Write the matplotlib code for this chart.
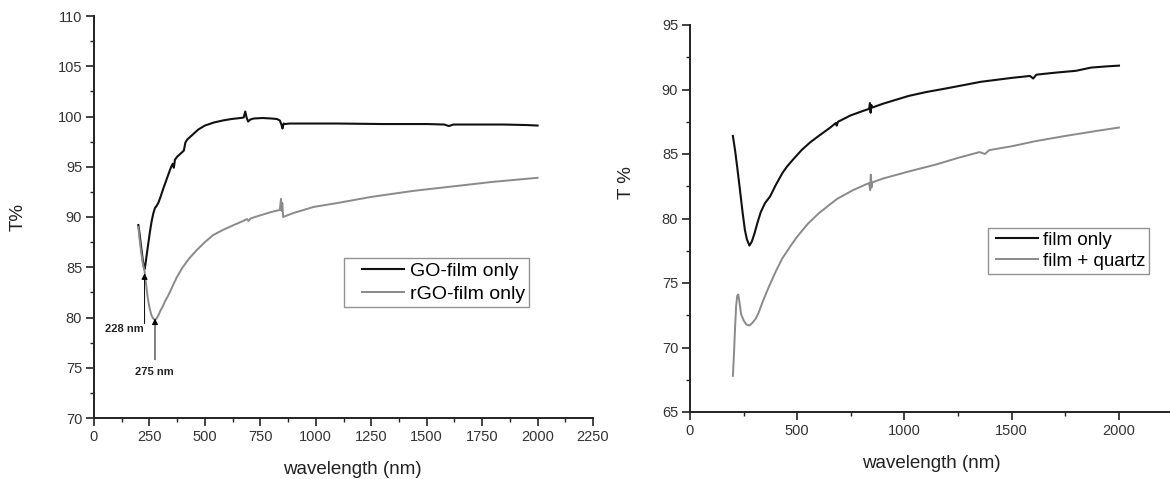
import matplotlib
matplotlib.use('Agg')
from matplotlib import pyplot as plt
from matplotlib.ticker import MultipleLocator
from matplotlib.lines import Line2D
from matplotlib.legend_handler import HandlerLine2D

plt.rcParams['font.family'] = ['Liberation Sans', 'DejaVu Sans']

# left panel: GO film / rGO film
wl_go = [200, 205, 210, 215, 220, 225, 228, 232, 238, 245, 252, 260, 268, 275, 282, 290, 300, 312, 325, 338,
         348, 355, 360, 365, 375, 390, 405, 412, 420, 435, 450, 470, 500, 540, 580, 620, 660, 675, 682, 688,
         695, 705, 720, 760, 800, 825, 838, 845, 850, 855, 862, 880, 950, 1100, 1300, 1500, 1580, 1600, 1620, 1700,
         1850, 1950, 2000]
t_go = [89.2, 88.4, 87.5, 86.6, 85.7, 85.0, 84.8, 85.3, 86.3, 87.4, 88.5, 89.6, 90.4, 90.9, 91.1, 91.4, 92.0, 92.8, 93.6, 94.4,
        95.0, 95.3, 94.9, 95.7, 96.0, 96.3, 96.6, 97.4, 97.7, 98.0, 98.3, 98.7, 99.1, 99.4, 99.6, 99.75, 99.85, 99.9, 100.5, 99.9,
        99.5, 99.7, 99.8, 99.85, 99.8, 99.75, 99.6, 99.2, 98.8, 99.3, 99.25, 99.3, 99.3, 99.3, 99.25, 99.25, 99.2, 99.05, 99.2, 99.2,
        99.2, 99.15, 99.1]

wl_rgo = [200, 205, 212, 220, 228, 235, 242, 250, 258, 265, 272, 278, 285, 292, 300, 310, 320, 335, 350, 373,
          400, 430, 463, 500, 537, 580, 630, 672, 690, 697, 705, 740, 800, 838, 843, 846, 849, 853, 870, 900,
          990, 1100, 1250, 1440, 1600, 1800, 2000]
t_rgo = [89.0, 87.9, 86.6, 85.4, 84.6, 83.3, 82.0, 81.0, 80.3, 79.95, 79.8, 79.8, 80.0, 80.3, 80.7, 81.1, 81.6, 82.2, 82.9, 84.0,
         85.0, 85.9, 86.7, 87.5, 88.2, 88.7, 89.2, 89.6, 89.8, 89.6, 89.85, 90.1, 90.5, 90.7, 91.8, 90.6, 91.4, 90.0, 90.15, 90.4,
         91.0, 91.4, 92.0, 92.6, 93.0, 93.5, 93.9]

# right panel: film only / film + quartz
wl_film = [200, 210, 220, 233, 245, 256, 265, 277, 288, 300, 315, 330, 350, 373, 400, 430, 451, 482, 520, 560,
           600, 650, 680, 684, 690, 750, 800, 835, 839, 842, 845, 850, 900, 1019, 1100, 1200, 1357, 1500, 1585, 1600,
           1615, 1700, 1800, 1870, 1950, 2000]
t_film = [86.4, 85.3, 84.0, 82.2, 80.5, 79.1, 78.4, 77.9, 78.2, 78.8, 79.7, 80.5, 81.2, 81.7, 82.6, 83.5, 84.0, 84.6, 85.3, 85.9,
          86.4, 87.0, 87.4, 87.2, 87.5, 88.0, 88.3, 88.5, 88.95, 88.2, 88.8, 88.6, 88.9, 89.5, 89.8, 90.1, 90.6, 90.9, 91.05, 90.85,
          91.15, 91.3, 91.45, 91.7, 91.8, 91.85]

wl_quartz = [200, 205, 210, 215, 220, 225, 230, 238, 250, 262, 277, 290, 305, 320, 340, 365, 400, 430, 470, 500,
             550, 600, 684, 760, 835, 840, 843, 846, 850, 900, 1021, 1150, 1250, 1350, 1375, 1395, 1500, 1612, 1750, 1900,
             2000]
t_quartz = [67.8, 69.5, 71.5, 73.2, 74.0, 74.1, 73.6, 72.6, 72.1, 71.8, 71.7, 71.9, 72.2, 72.7, 73.6, 74.6, 75.9, 76.9, 77.9, 78.6,
            79.6, 80.4, 81.5, 82.2, 82.75, 82.2, 83.4, 82.4, 82.8, 83.1, 83.65, 84.2, 84.7, 85.15, 85.0, 85.3, 85.6, 86.0, 86.4, 86.8,
            87.05]


def style_axes(ax):
    for s in ['top', 'right']:
        ax.spines[s].set_visible(False)
    for s in ['left', 'bottom']:
        ax.spines[s].set_linewidth(1.4)
        ax.spines[s].set_color('#222222')
    ax.tick_params(which='major', direction='out', length=5.5, width=1.2,
                   labelsize=10.5, labelcolor='#333333', color='#222222', pad=3)
    ax.tick_params(which='minor', direction='out', length=3, width=1.0, color='#222222')


def boxed_legend(ax, anchor, fs, xpad, hlen, spacing):
    leg = ax.legend(loc='upper left', bbox_to_anchor=anchor,
                    bbox_transform=fig.transFigure, fontsize=fs, frameon=True, fancybox=False,
                    handlelength=hlen, handletextpad=0.3, borderpad=0.2, labelspacing=spacing,
                    borderaxespad=0, handler_map={Line2D: HandlerLine2D(xpad=xpad)})
    leg.get_frame().set_edgecolor('#777777')
    leg.get_frame().set_linewidth(1.0)
    return leg


fig = plt.figure(figsize=(11.7, 4.79), dpi=100)

# ---- left ----
ax1 = fig.add_axes([94 / 1170, 1 - 418 / 479, 499 / 1170, 402 / 479])
ax1.plot(wl_go, t_go, c='#111111', lw=1.5, label='GO-film only')
ax1.plot(wl_rgo, t_rgo, c='#8a8a8a', lw=1.4, label='rGO-film only')
ax1.set_xlim(0, 2250)
ax1.set_ylim(70, 110)
ax1.xaxis.set_major_locator(MultipleLocator(250))
ax1.xaxis.set_minor_locator(MultipleLocator(125))
ax1.yaxis.set_major_locator(MultipleLocator(5))
ax1.yaxis.set_minor_locator(MultipleLocator(2.5))
style_axes(ax1)
ax1.set_xlabel('wavelength (nm)', fontsize=13.5, color='#222222')
ax1.set_ylabel('T%', fontsize=13.5, color='#222222')
ax1.xaxis.set_label_coords(0.517, -0.107)
ax1.yaxis.set_label_coords(-0.135, 0.5)

arrow = dict(arrowstyle='-|>', color='black', lw=0.7, mutation_scale=9, shrinkA=0, shrinkB=0)
ax1.annotate('', xy=(228, 84.4), xytext=(228, 79.4), arrowprops=arrow)
ax1.annotate('', xy=(275, 79.9), xytext=(275, 75.8), arrowprops=arrow)
ax1.text(136, 78.85, '228 nm', fontsize=8, fontweight='bold', ha='center', va='center', color='#222222')
ax1.text(272, 74.6, '275 nm', fontsize=8, fontweight='bold', ha='center', va='center', color='#222222')

boxed_legend(ax1, (344 / 1170, 1 - 258 / 479), 14, 0.7, 2.9, 0.3)

# ---- right ----
ax2 = fig.add_axes([690 / 1170, 1 - 412 / 479, 482.6 / 1170, 387 / 479])
ax2.plot(wl_film, t_film, c='#111111', lw=1.5, label='film only')
ax2.plot(wl_quartz, t_quartz, c='#8a8a8a', lw=1.4, label='film + quartz')
ax2.set_xlim(0, 2250)
ax2.set_ylim(65, 95)
ax2.xaxis.set_major_locator(MultipleLocator(500))
ax2.xaxis.set_minor_locator(MultipleLocator(250))
ax2.yaxis.set_major_locator(MultipleLocator(5))
ax2.yaxis.set_minor_locator(MultipleLocator(2.5))
style_axes(ax2)
ax2.set_xlabel('wavelength (nm)', fontsize=13.5, color='#222222')
ax2.set_ylabel('T %', fontsize=13.5, color='#222222')
ax2.xaxis.set_label_coords(0.4994, -0.111)
ax2.yaxis.set_label_coords(-0.115, 0.594)

boxed_legend(ax2, (988 / 1170, 1 - 228 / 479), 13.5, 0.25, 2.45, 0.2)

fig.savefig('out.png', dpi=100)
